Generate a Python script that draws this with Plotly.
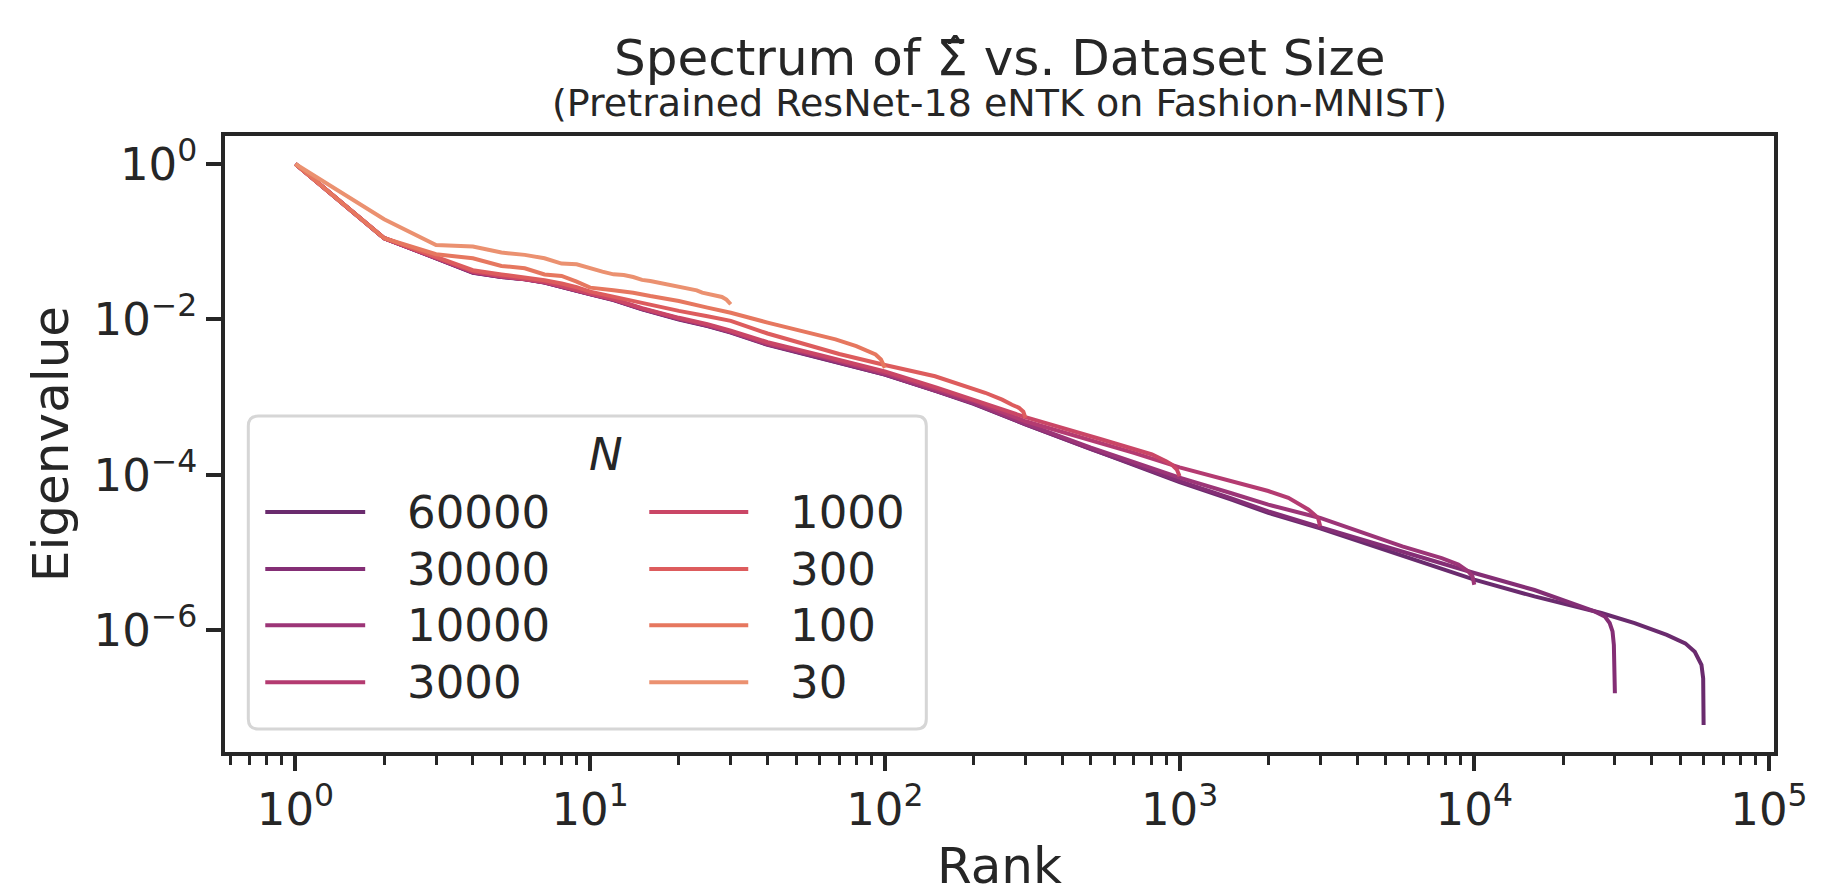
import plotly.graph_objects as go

# dataset sizes N, one line each (legend order)
SIZES = ["60000", "30000", "10000", "3000", "1000", "300", "100", "30"]

# eigenvalue spectra: rank -> normalised eigenvalue
RANK_60000 = [1, 2, 3, 4, 5, 6, 7, 8, 9, 10, 12, 15, 20, 25, 30, 40, 60, 100, 150, 200, 300, 500, 700,
              1000, 1500, 2000, 3000, 5000, 7000, 10000, 16000, 27000, 35000, 45000, 52000, 56000,
              59000, 59800, 60000]
EIG_60000 = [1.0, 0.111, 0.0613, 0.040, 0.0352, 0.0329, 0.0298, 0.0265, 0.0233, 0.0211, 0.0178, 0.0135,
             0.0100, 0.0082, 0.0068, 0.0047, 0.0032, 0.00195, 0.00119, 0.00082, 0.000446, 0.000216,
             0.000134, 8.1e-5, 4.8e-5, 3.24e-5, 2.05e-5, 1.07e-5, 7.0e-6, 4.48e-6, 2.73e-6, 1.67e-6,
             1.24e-6, 8.75e-7, 6.8e-7, 5.3e-7, 3.6e-7, 2.4e-7, 6.05e-8]

RANK_30000 = [1, 2, 3, 4, 5, 6, 7, 8, 9, 10, 12, 15, 20, 25, 30, 40, 60, 100, 150, 200, 300, 500, 700,
              1000, 1500, 2000, 3000, 5000, 7000, 10000, 16000, 25600, 27700, 28800, 29450, 29760, 30000]
EIG_30000 = [1.0, 0.111, 0.0615, 0.0402, 0.0353, 0.033, 0.0299, 0.0266, 0.0234, 0.0212, 0.0179, 0.0136,
             0.0101, 0.0083, 0.0069, 0.0048, 0.0032, 0.00196, 0.0012, 0.00083, 0.000448, 0.000214,
             0.000137, 8.3e-5, 5.0e-5, 3.4e-5, 2.12e-5, 1.19e-5, 8.1e-6, 5.46e-6, 3.3e-6, 1.75e-6,
             1.51e-6, 1.24e-6, 9.7e-7, 6.5e-7, 1.55e-7]

RANK_10000 = [1, 2, 3, 4, 5, 6, 7, 8, 9, 10, 12, 15, 20, 25, 30, 40, 60, 100, 150, 200, 300, 500, 700,
              1000, 1500, 2000, 3000, 4000, 5700, 7750, 8830, 9550, 9860, 10000]
EIG_10000 = [1.0, 0.111, 0.0617, 0.0404, 0.0355, 0.0331, 0.030, 0.0267, 0.0235, 0.0213, 0.018, 0.0137,
             0.0102, 0.0084, 0.0069, 0.0048, 0.0033, 0.00198, 0.00121, 0.00084, 0.000458, 0.000225,
             0.000146, 9.2e-5, 5.8e-5, 4.14e-5, 2.79e-5, 1.91e-5, 1.2e-5, 8.5e-6, 7.0e-6, 5.7e-6,
             4.94e-6, 3.86e-6]

RANK_3000 = [1, 2, 3, 4, 5, 6, 7, 8, 9, 10, 12, 15, 20, 25, 30, 40, 60, 100, 150, 200, 300, 500, 700,
             1000, 1500, 2000, 2340, 2740, 2950, 3000]
EIG_3000 = [1.0, 0.111, 0.062, 0.041, 0.0358, 0.0332, 0.0302, 0.0268, 0.0236, 0.0214, 0.0181, 0.0138,
            0.0103, 0.0085, 0.0070, 0.0049, 0.0034, 0.00205, 0.00127, 0.0009, 0.00049, 0.00028,
            0.000192, 0.000125, 8.2e-5, 6.2e-5, 5.06e-5, 3.57e-5, 2.8e-5, 2.18e-5]

RANK_1000 = [1, 2, 3, 4, 5, 6, 7, 8, 9, 10, 12, 15, 20, 25, 30, 40, 60, 100, 150, 200, 300, 545, 700,
             806, 900, 941, 979, 1000]
EIG_1000 = [1.0, 0.111, 0.0625, 0.0415, 0.0362, 0.0335, 0.0305, 0.027, 0.0238, 0.0216, 0.0183, 0.014,
            0.0105, 0.0087, 0.0072, 0.0051, 0.0035, 0.00215, 0.00133, 0.00092, 0.000553, 0.000285,
            0.000215, 0.000183, 0.00015, 0.000136, 0.000117, 9.6e-5]

RANK_300 = [1, 2, 3, 4, 5, 6, 7, 8, 9, 10, 12, 15, 20, 25, 30, 40, 52, 70, 100, 148, 219, 250, 270,
            285, 295, 300]
EIG_300 = [1.0, 0.112, 0.064, 0.043, 0.038, 0.035, 0.032, 0.029, 0.026, 0.0228, 0.0196, 0.0164, 0.0129,
           0.011, 0.0096, 0.0066, 0.0049, 0.0036, 0.00259, 0.00186, 0.00114, 0.00093, 0.0008,
           0.00073, 0.00065, 0.00054]

RANK_100 = [1, 2, 3, 4, 5, 6, 7, 8, 9, 10, 12, 14, 16, 20, 25, 30, 40, 52, 68, 80, 88, 93, 97, 100]
EIG_100 = [1.0, 0.111, 0.069, 0.0613, 0.0489, 0.0456, 0.038, 0.0363, 0.0307, 0.0257, 0.0237, 0.0221,
           0.020, 0.0173, 0.0142, 0.0122, 0.0091, 0.0071, 0.00554, 0.00455, 0.0039, 0.00355, 0.00306,
           0.00239]

RANK_30 = [1, 2, 3, 4, 5, 6, 7, 8, 9, 10, 11, 12, 13, 14, 15, 16, 17, 18, 19, 20, 21, 22, 23, 24, 25,
           26, 27, 28, 29, 30]
EIG_30 = [1.0, 0.195, 0.091, 0.0867, 0.0726, 0.0678, 0.0613, 0.0524, 0.0513, 0.0452, 0.0413, 0.0381,
          0.0374, 0.0352, 0.0323, 0.0313, 0.0298, 0.0283, 0.0272, 0.0262, 0.0251, 0.0244, 0.0237,
          0.0221, 0.0215, 0.0209, 0.0203, 0.0195, 0.018, 0.0157]

X_TICKS = [1, 10, 100, 1000, 10000, 100000]
X_TICK_TEXT = ["10<sup>0</sup>", "10<sup>1</sup>", "10<sup>2</sup>", "10<sup>3</sup>",
               "10<sup>4</sup>", "10<sup>5</sup>"]
Y_TICKS = [1, 1e-2, 1e-4, 1e-6]
Y_TICK_TEXT = ["10<sup>0</sup>", "10<sup>\u22122</sup>", "10<sup>\u22124</sup>", "10<sup>\u22126</sup>"]

COLORS = ["#6a2b6e", "#842e75", "#9c3577", "#b43b71", "#ca4666", "#dd5c5d", "#e6775f", "#eb9170"]
FONT = "DejaVu Sans"
INK = "#262626"

series = [
    (RANK_60000, EIG_60000), (RANK_30000, EIG_30000), (RANK_10000, EIG_10000), (RANK_3000, EIG_3000),
    (RANK_1000, EIG_1000), (RANK_300, EIG_300), (RANK_100, EIG_100), (RANK_30, EIG_30),
]

fig = go.Figure()
for name, color, (ranks, eigs) in zip(SIZES, COLORS, series):
    fig.add_trace(go.Scatter(x=ranks, y=eigs, mode="lines", name=name, showlegend=False,
                             line=dict(color=color, width=4)))

# minor ticks on the rank axis (2..9 x 10^k)
minor_x = [m * 10.0 ** k for k in range(-1, 5) for m in range(2, 10)]
minor_x = [v for v in minor_x if 0.577 < v < 104000]

axis_common = dict(
    type="log", showgrid=False, zeroline=False, showline=True, mirror=True,
    linecolor=INK, linewidth=3.5, ticks="outside", ticklen=15, tickwidth=3.5, tickcolor=INK,
    tickfont=dict(family=FONT, size=45, color=INK),
)

fig.update_layout(
    width=1821, height=896,
    margin=dict(l=217, r=55, t=128, b=152),
    paper_bgcolor="white", plot_bgcolor="white",
    font=dict(family=FONT, color=INK),
    xaxis=dict(axis_common, range=[-0.239, 5.017], tickmode="array", tickvals=X_TICKS,
               ticktext=X_TICK_TEXT,
               minor=dict(tickmode="array", tickvals=minor_x, ticks="outside", ticklen=9,
                          tickwidth=2.5, tickcolor=INK),
               title=dict(text="Rank", font=dict(family=FONT, size=50, color=INK), standoff=14)),
    yaxis=dict(axis_common, range=[-7.566, 0.361], tickmode="array", tickvals=Y_TICKS,
               ticktext=Y_TICK_TEXT,
               title=dict(text="Eigenvalue", font=dict(family=FONT, size=50, color=INK), standoff=10)),
)

# title and subtitle
fig.add_annotation(x=0.5, y=1.127, xref="paper", yref="paper", showarrow=False,
                   text="Spectrum of \u03a3\u0302 vs. Dataset Size",
                   font=dict(family=FONT, size=50, color=INK), yanchor="middle")
fig.add_annotation(x=0.5, y=1.053, xref="paper", yref="paper", showarrow=False,
                   text="(Pretrained ResNet-18 eNTK on Fashion-MNIST)",
                   font=dict(family=FONT, size=38, color=INK), yanchor="middle")

# legend drawn by hand: two columns, frame with rounded corners
hw, hh, r = 339, 156.5, 10
frame = (f"M {-hw + r},{-hh} L {hw - r},{-hh} Q {hw},{-hh} {hw},{-hh + r} L {hw},{hh - r} "
         f"Q {hw},{hh} {hw - r},{hh} L {-hw + r},{hh} Q {-hw},{hh} {-hw},{hh - r} "
         f"L {-hw},{-hh + r} Q {-hw},{-hh} {-hw + r},{-hh} Z")
fig.add_shape(type="path", path=frame, xref="paper", yref="paper", xsizemode="pixel",
              ysizemode="pixel", xanchor=0.2339, yanchor=0.2912, layer="above",
              line=dict(color="#d6d6d6", width=3), fillcolor="rgba(255,255,255,0.8)")
fig.add_annotation(x=0.2339, y=0.4822, xref="paper", yref="paper", showarrow=False,
                   text="<i>N</i>", font=dict(family=FONT, size=45, color=INK), yanchor="middle")

col_line = [(0.0260, 0.0905, 0.1163), (0.2739, 0.3378, 0.3636)]
row_y = [0.3896, 0.2969, 0.2059, 0.1133]
for i, (name, color) in enumerate(zip(SIZES, COLORS)):
    x0, x1, xt = col_line[i // 4]
    y = row_y[i % 4]
    fig.add_shape(type="line", xref="paper", yref="paper", x0=x0, x1=x1, y0=y, y1=y,
                  layer="above", line=dict(color=color, width=4))
    fig.add_annotation(x=xt, y=y, xref="paper", yref="paper", showarrow=False, text=name,
                       xanchor="left", yanchor="middle",
                       font=dict(family=FONT, size=45, color=INK))

fig.write_html("out.html")
